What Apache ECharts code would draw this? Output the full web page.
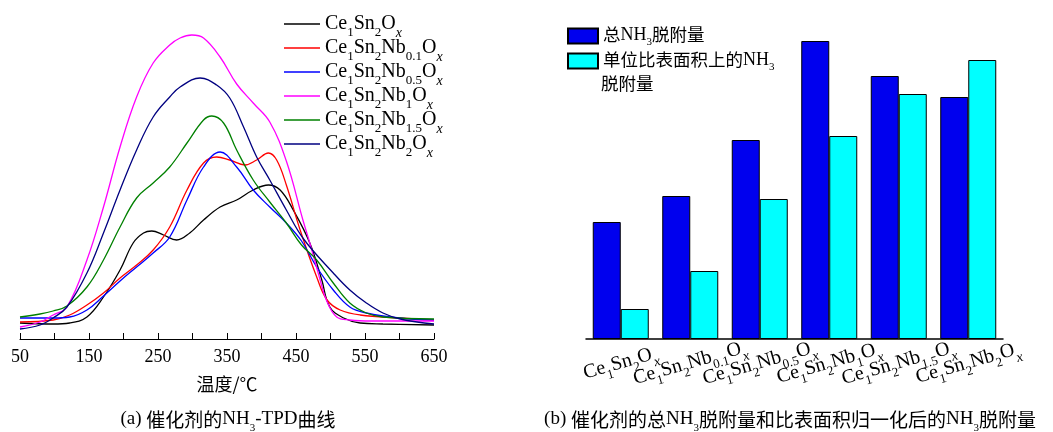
<!DOCTYPE html>
<html><head><meta charset="utf-8">
<script src="https://cdn.jsdelivr.net/npm/echarts@6/dist/echarts.min.js"></script>
<style>html,body{margin:0;padding:0;background:#fff}#c{width:1053px;height:432px}</style>
</head><body><div id="c"></div>
<script>
// ---- data ----
const seriesNames = ['Ce1Sn2Ox','Ce1Sn2Nb0.1Ox','Ce1Sn2Nb0.5Ox','Ce1Sn2Nb1Ox','Ce1Sn2Nb1.5Ox','Ce1Sn2Nb2Ox'];
const lineColors = ['#000000','#ff0000','#0000ff','#ff00ff','#008000','#000080'];
// NH3-TPD curves: [temperature / °C, signal (a.u.)]
const tpdCe1Sn2 = [[50,16],[98,15],[122,16],[147,22],[171,42],[195,69],[214,96],[229,106],[241,108],[258,104],[277,99],[296,106],[316,119],[340,132],[364,139],[388,149],[410,154],[427,149],[446,129],[470,96],[487,60],[499,32],[519,21],[543,16],[576,15],[650,14]];
const tpdNb01 = [[50,17],[98,19],[122,24],[147,34],[171,46],[195,61],[219,74],[243,89],[267,112],[292,149],[316,176],[335,182],[354,179],[376,174],[393,179],[410,186],[422,179],[436,154],[456,109],[480,62],[495,39],[514,29],[543,24],[601,21],[650,19]];
const tpdNb05 = [[50,21],[98,21],[122,22],[147,29],[171,43],[195,58],[219,72],[243,86],[267,102],[292,139],[316,172],[340,187],[364,172],[388,149],[412,132],[436,116],[458,98],[480,72],[504,49],[528,32],[552,26],[600,21],[650,19]];
const tpdNb1 = [[50,12],[79,17],[98,24],[118,32],[147,79],[171,132],[195,192],[219,242],[243,276],[267,294],[282,301],[299,304],[316,301],[340,282],[364,255],[388,236],[412,217],[436,178],[460,119],[470,96],[485,59],[494,39],[509,22],[528,19],[560,18],[650,18]];
const tpdNb15 = [[50,22],[79,25],[98,28],[118,33],[147,52],[171,79],[195,112],[219,141],[243,156],[267,172],[292,196],[316,219],[328,223],[345,216],[364,189],[388,159],[412,137],[436,116],[458,94],[480,79],[504,56],[528,36],[552,26],[576,22],[650,20]];
const tpdNb2 = [[50,10],[79,14],[98,21],[118,32],[147,66],[171,106],[195,149],[219,189],[243,222],[267,242],[282,252],[311,261],[335,254],[354,241],[374,212],[393,182],[412,159],[436,129],[461,100],[504,66],[528,49],[552,36],[576,26],[601,20],[650,15]];
const tpdCurves = [tpdCe1Sn2, tpdNb01, tpdNb05, tpdNb1, tpdNb15, tpdNb2];
const xMin = 50, xMax = 650, xStep = 50, xLabelStep = 100;

const categories = ['Ce1Sn2Ox','Ce1Sn2Nb0.1Ox','Ce1Sn2Nb0.5Ox','Ce1Sn2Nb1Ox','Ce1Sn2Nb1.5Ox','Ce1Sn2Nb2Ox'];
const barNames = ['总NH3脱附量','单位比表面积上的NH3脱附量'];
const barColors = ['#0000ee','#00ffff'];
const totalNH3 = [117,143,199,298,263,242];
const specificNH3 = [30,68,140,203,245,279];

// ---- helpers ----
const SERIF = 'Liberation Serif', CJK = 'Noto Sans CJK SC';
function formula(s){
  return s.replace(/([A-Z][a-wyz]?)(\d+(?:\.\d+)?|x)?/g, (m, el, sub) =>
    '{n|' + el + '}' + (sub ? (sub === 'x' ? '{i|x}' : '{s|' + sub + '}') : ''));
}
const formulaRich = {
  n: {fontFamily: SERIF, fontSize: 20, lineHeight: 20, verticalAlign: 'top', color: '#000'},
  s: {fontFamily: SERIF, fontSize: 13, lineHeight: 13, padding: [12,0,0,0], verticalAlign: 'top', color: '#000'},
  i: {fontFamily: SERIF, fontSize: 14, lineHeight: 13, padding: [12,0,0,0], verticalAlign: 'top', fontStyle: 'italic', color: '#000'}
};
function mixed(s){
  return s.split(/(NH3|[A-Za-z()\-\s]+)/).filter(t => t).map(t => {
    if (t === 'NH3') return '{l|NH}{t|3}';
    if (/^[A-Za-z()\-\s]+$/.test(t)) return '{l|' + t + '}';
    return '{c|' + t + '}';
  }).join('');
}
const legRich = {
  c: {fontFamily: CJK, fontSize: 17.5, lineHeight: 20, verticalAlign: 'top', color: '#000'},
  l: {fontFamily: SERIF, fontSize: 18, lineHeight: 20, verticalAlign: 'top', color: '#000'},
  t: {fontFamily: SERIF, fontSize: 11, lineHeight: 11, padding: [11,0,0,0], verticalAlign: 'top', color: '#000'}
};
const capRich = {
  c: {fontFamily: CJK, fontSize: 19, lineHeight: 22, verticalAlign: 'top', color: '#000'},
  l: {fontFamily: SERIF, fontSize: 19, lineHeight: 22, verticalAlign: 'top', color: '#000'},
  t: {fontFamily: SERIF, fontSize: 11, lineHeight: 11, padding: [13,0,0,0], verticalAlign: 'top', color: '#000'}
};

const chart = echarts.init(document.getElementById('c'));
const lineSeries = seriesNames.map((n, k) => ({
  name: n, type: 'line', xAxisIndex: 0, yAxisIndex: 0, data: tpdCurves[k],
  smooth: 0.4, symbol: 'none', color: lineColors[k],
  lineStyle: {width: 1.3, color: lineColors[k]}
}));
const barSeries = [totalNH3, specificNH3].map((d, k) => ({
  name: barNames[k], type: 'bar', xAxisIndex: 1, yAxisIndex: 1, data: d,
  barWidth: 28, barGap: '0%', color: barColors[k],
  itemStyle: {color: barColors[k], borderColor: '#000', borderWidth: 1}
}));

chart.setOption({
  animation: false,
  backgroundColor: '#fff',
  grid: [
    {left: 20, top: 20, width: 414, height: 319},
    {left: 586, top: 20, width: 417, height: 319}
  ],
  xAxis: [
    {type: 'value', gridIndex: 0, min: xMin, max: xMax, interval: xStep,
     axisLine: {show: true, lineStyle: {color: '#000', width: 1}},
     axisTick: {show: true, inside: true, length: 6, lineStyle: {color: '#000'}},
     splitLine: {show: false},
     axisLabel: {color: '#000', fontFamily: SERIF, fontSize: 18, margin: 9,
       formatter: v => ((v - xMin) % xLabelStep === 0 ? String(v) : '')},
     name: '温度/℃', nameLocation: 'middle', nameGap: 36,
     nameTextStyle: {color: '#000', fontFamily: CJK, fontSize: 18}},
    {type: 'category', gridIndex: 1, data: categories,
     axisLine: {show: true, lineStyle: {color: '#000', width: 1.5}},
     axisTick: {show: false},
     axisLabel: {interval: 0, rotate: 16, align: 'center', verticalAlign: 'middle', margin: 24,
       formatter: formula, rich: formulaRich}}
  ],
  yAxis: [
    {type: 'value', gridIndex: 0, min: 0, max: 319, show: false},
    {type: 'value', gridIndex: 1, min: 0, max: 319, show: false}
  ],
  legend: [
    {data: seriesNames, orient: 'vertical', left: 284, top: 14, padding: 0,
     itemWidth: 36, itemHeight: 1.5, itemGap: -2, icon: 'rect',
     formatter: formula, textStyle: {rich: formulaRich}},
    {data: barNames, orient: 'vertical', left: 567, top: 26, padding: 0,
     itemWidth: 30, itemHeight: 15, itemGap: 3, icon: 'rect',
     formatter: n => mixed(n === barNames[1] ? '单位比表面积上的NH3' : n),
     textStyle: {rich: legRich}}
  ],
  graphic: [
    {type: 'text', left: 601, top: 75, style: {text: '{c|脱附量}', rich: legRich}},
    {type: 'text', x: 228, y: 421, style: {text: mixed('(a) 催化剂的NH3-TPD曲线'), rich: capRich, align: 'center', verticalAlign: 'middle'}},
    {type: 'text', x: 790, y: 421, style: {text: mixed('(b) 催化剂的总NH3脱附量和比表面积归一化后的NH3脱附量'), rich: capRich, align: 'center', verticalAlign: 'middle'}}
  ],
  series: lineSeries.concat(barSeries)
});
</script></body></html>
